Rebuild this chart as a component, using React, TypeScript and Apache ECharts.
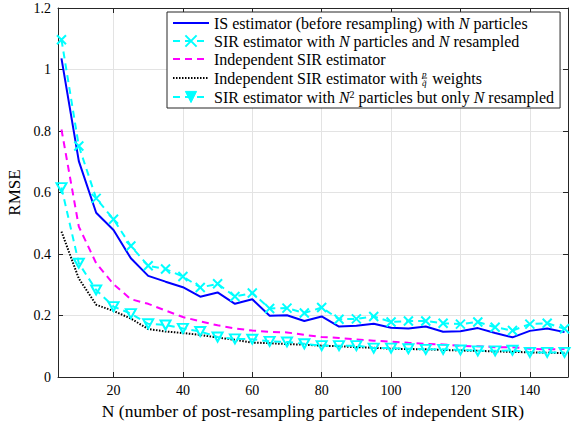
import React, { useEffect, useRef } from "react";
import * as echarts from "echarts";

const particles = [5, 10, 15, 20, 25, 30, 35, 40, 45, 50, 55, 60, 65, 70, 75, 80, 85, 90, 95, 100, 105, 110, 115, 120, 125, 130, 135, 140, 145, 150];

const isEstimator = [1.036, 0.702, 0.534, 0.478, 0.386, 0.329, 0.31, 0.292, 0.261, 0.275, 0.238, 0.253, 0.199, 0.201, 0.182, 0.197, 0.164, 0.167, 0.173, 0.16, 0.158, 0.164, 0.147, 0.149, 0.159, 0.143, 0.129, 0.15, 0.158, 0.146];

const sirN = [1.097, 0.751, 0.581, 0.513, 0.426, 0.362, 0.351, 0.327, 0.291, 0.303, 0.262, 0.273, 0.223, 0.224, 0.208, 0.226, 0.188, 0.189, 0.197, 0.179, 0.182, 0.182, 0.175, 0.172, 0.179, 0.162, 0.151, 0.172, 0.175, 0.157];

const independentSir = [0.805, 0.489, 0.37, 0.302, 0.253, 0.238, 0.216, 0.195, 0.181, 0.168, 0.158, 0.151, 0.147, 0.145, 0.137, 0.13, 0.127, 0.122, 0.118, 0.115, 0.111, 0.108, 0.106, 0.101, 0.1, 0.097, 0.097, 0.092, 0.09, 0.091];

const independentSirPQ = [0.473, 0.32, 0.235, 0.215, 0.19, 0.156, 0.148, 0.143, 0.137, 0.128, 0.121, 0.112, 0.11, 0.107, 0.105, 0.102, 0.1, 0.097, 0.095, 0.092, 0.091, 0.09, 0.088, 0.086, 0.085, 0.083, 0.082, 0.08, 0.079, 0.078];

const sirN2 = [0.616, 0.37, 0.283, 0.229, 0.206, 0.173, 0.169, 0.158, 0.148, 0.13, 0.124, 0.123, 0.116, 0.114, 0.108, 0.102, 0.102, 0.102, 0.094, 0.094, 0.092, 0.09, 0.09, 0.088, 0.085, 0.085, 0.087, 0.08, 0.08, 0.08];

const seriesNames = [
  "IS estimator (before resampling) with N particles",
  "SIR estimator with N particles and N resampled",
  "Independent SIR estimator",
  "Independent SIR estimator with p/q̃ weights",
  "SIR estimator with N^2 particles but only N resampled",
];

const legendLabels: Record<string, string> = {
  [seriesNames[0]]: "IS estimator (before resampling) with {i|N} particles",
  [seriesNames[1]]: "SIR estimator with {i|N} particles and {i|N} resampled",
  [seriesNames[2]]: "Independent SIR estimator",
  [seriesNames[3]]: "Independent SIR estimator with {fp|p}{fq|q̃}{fb| }{sp| }weights",
  [seriesNames[4]]: "SIR estimator with {i|N}{sup|2} particles but only {i|N} resampled",
};

const xTitle = "N (number of post-resampling particles of independent SIR)";
const yTitle = "RMSE";

export default function App() {
  const ref = useRef<HTMLDivElement>(null);
  useEffect(() => {
    if (!ref.current) return;
    const chart = echarts.init(ref.current, null, { renderer: "svg" });
    const serif = "Liberation Serif";
    const axisColor = "#262626";
    const gridColor = "#e3e3e3";
    const pair = (ys: number[]) => particles.map((n, i) => [n, ys[i]]);
    const dash = [7, 5];
    const cyan = "#00ffff";
    const fs = 16;

    const xBase = {
      type: "value",
      min: 4,
      max: 151,
      splitNumber: 7,
      minInterval: 20,
      maxInterval: 20,
    };
    const yBase = { type: "value", min: 0, max: 1.2, interval: 0.2 };
    const axisLine = { show: true, onZero: false, lineStyle: { color: axisColor, width: 1 } };
    const axisTick = { show: true, inside: true, length: 5, lineStyle: { color: axisColor } };
    const noMarker = { color: "rgba(0,0,0,0)", borderWidth: 0, borderColor: "rgba(0,0,0,0)" };

    chart.setOption({
      animation: false,
      backgroundColor: "#ffffff",
      textStyle: { fontFamily: serif },
      grid: { left: 58, right: 16, top: 8, bottom: 44, containLabel: false, outerBoundsMode: "none" },
      xAxis: [
        {
          ...xBase,
          position: "bottom",
          axisLine,
          axisTick,
          axisLabel: {
            showMinLabel: false,
            showMaxLabel: false,
            color: "#000",
            fontFamily: serif,
            fontSize: 14,
            margin: 6,
          },
          splitLine: { show: true, lineStyle: { color: gridColor, width: 1 } },
          name: xTitle,
          nameLocation: "middle",
          nameGap: 23,
          nameTextStyle: { color: "#000", fontFamily: serif, fontSize: 17.5 },
        },
        {
          ...xBase,
          position: "top",
          axisLine,
          axisTick,
          axisLabel: { show: false },
          splitLine: { show: false },
        },
      ],
      yAxis: [
        {
          ...yBase,
          position: "left",
          axisLine,
          axisTick,
          axisLabel: { color: "#000", fontFamily: serif, fontSize: 14, margin: 7 },
          splitLine: { show: true, lineStyle: { color: gridColor, width: 1 } },
          name: yTitle,
          nameLocation: "middle",
          nameGap: 33,
          nameTextStyle: { color: "#000", fontFamily: serif, fontSize: 17 },
        },
        {
          ...yBase,
          position: "right",
          axisLine,
          axisTick,
          axisLabel: { show: false },
          splitLine: { show: false },
        },
      ],
      legend: {
        orient: "vertical",
        left: 167,
        top: 12,
        itemWidth: 36,
        itemHeight: 14,
        itemGap: 2,
        padding: [3, 6, 3, 5],
        backgroundColor: "#ffffff",
        borderColor: axisColor,
        borderWidth: 1,
        borderRadius: 0,
        data: [
          { name: seriesNames[0], itemStyle: noMarker },
          { name: seriesNames[1] },
          { name: seriesNames[2], itemStyle: noMarker },
          { name: seriesNames[3], itemStyle: noMarker },
          { name: seriesNames[4], itemStyle: { color: cyan, borderColor: cyan, borderWidth: 1 } },
        ],
        formatter: (name: string) => legendLabels[name] || name,
        textStyle: {
          color: "#000",
          fontFamily: serif,
          fontSize: fs,
          lineHeight: 16,
          rich: {
            i: { fontFamily: serif, fontSize: fs, fontStyle: "italic", color: "#000", lineHeight: 16 },
            sup: { fontFamily: serif, fontSize: 10, verticalAlign: "top", lineHeight: 10, color: "#000" },
            fp: { fontFamily: serif, fontSize: 9, fontStyle: "italic", verticalAlign: "top", lineHeight: 7, height: 7, width: 0.1, color: "#000" },
            fq: { fontFamily: serif, fontSize: 9, fontStyle: "italic", verticalAlign: "bottom", lineHeight: 7, height: 7, width: 0.1, color: "#000" },
            fb: { fontSize: 1, height: 0.8, lineHeight: 1, width: 5, backgroundColor: "#000", verticalAlign: "middle" },
            sp: { fontFamily: serif, fontSize: fs, width: 5 },
          },
        },
      },
      series: [
        {
          name: seriesNames[0],
          type: "line",
          data: pair(isEstimator),
          symbol: "none",
          color: "#0000ff",
          lineStyle: { color: "#0000ff", width: 2 },
          z: 2,
        },
        {
          name: seriesNames[1],
          type: "line",
          data: pair(sirN),
          symbol: "path://M0,0L10,10M10,0L0,10",
          symbolSize: 9,
          color: cyan,
          itemStyle: { color: "rgba(0,0,0,0)", borderColor: cyan, borderWidth: 2 },
          lineStyle: { color: cyan, width: 2, type: dash },
          z: 3,
        },
        {
          name: seriesNames[2],
          type: "line",
          data: pair(independentSir),
          symbol: "none",
          color: "#ff00ff",
          lineStyle: { color: "#ff00ff", width: 2, type: dash },
          z: 4,
        },
        {
          name: seriesNames[3],
          type: "line",
          data: pair(independentSirPQ),
          symbol: "none",
          color: "#000000",
          lineStyle: { color: "#000000", width: 2, type: [1.5, 1.5] },
          z: 5,
        },
        {
          name: seriesNames[4],
          type: "line",
          data: pair(sirN2),
          symbol: "triangle",
          symbolRotate: 180,
          symbolSize: [10, 9],
          color: cyan,
          itemStyle: { color: "rgba(0,0,0,0)", borderColor: cyan, borderWidth: 2 },
          lineStyle: { color: cyan, width: 2, type: dash },
          z: 6,
        },
      ],
    });
    return () => chart.dispose();
  }, []);
  return (
    <div
      ref={ref}
      style={{ position: "absolute", left: 0, top: 0, width: 584, height: 421 }}
    />
  );
}
